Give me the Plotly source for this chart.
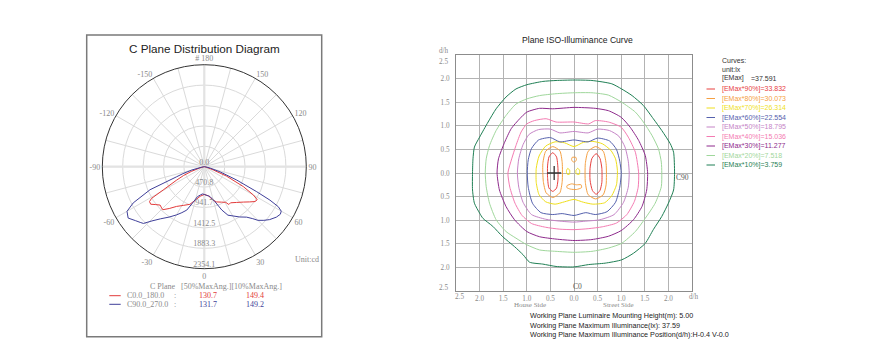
import plotly.graph_objects as go

# page has an 8px body margin: the figure is laid out in screen pixels and shifted
OFF = 8
W, H = 894 - OFF, 364 - OFF


def px(x):
    return (x - OFF) / W


def py(y):
    return 1 - (y - OFF) / H


# ---------------- C plane (polar) data ----------------
radial_max = 2354.1
radial_vals = [0.0, 470.8, 941.7, 1412.5, 1883.3, 2354.1]
radial_text = ["0.0", "470.8", "941.7", "1412.5", "1883.3", "2354.1"]
angle_vals = list(range(0, 360, 15))
angle_text = ["0", "", "30", "", "60", "", "90", "", "120", "", "150", "",
              "# 180", "", "-150", "", "-120", "", "-90", "", "-60", "", "-30", ""]

c0_theta = [-90, -80, -74, -70, -67, -64, -60.5, -59, -57.5, -55, -52, -49, -46, -44, -40, -35, -28, -21, -14, -8,
            0, 8, 15, 19, 26, 31, 33, 36, 42, 48, 52, 55.5, 58, 60, 63, 67, 70, 74, 80, 90]
c0_r = [0, 20, 120, 320, 520, 720, 1090, 1420, 1500, 1510, 1420, 1350, 1370, 1380, 1260, 1120, 1010, 930, 780, 690,
        640, 680, 800, 860, 910, 960, 1040, 1030, 1110, 1220, 1320, 1420, 1440, 1310, 1010, 560, 230, 80, 20, 0]

c90_theta = [-90, -80, -75, -72, -70, -67, -63, -60, -56, -52, -49, -47, -44, -40, -35, -30, -26, -22, -17, -13,
             -8, -4, 0, 4, 8, 11, 17, 22, 26, 31, 35, 40, 43, 45, 48, 51, 55, 58, 60, 61.6,
             63, 64.5, 67.6, 72, 76, 80, 90]
c90_r = [0, 60, 300, 520, 680, 1360, 1840, 2060, 2120, 2020, 1960, 1920, 1740, 1570, 1420, 1285, 1180, 1080, 846, 711,
         660, 630, 640, 660, 680, 704, 845, 1077, 1245, 1330, 1416, 1520, 1640, 1750, 1850, 1940, 2030, 2070, 2050, 1940,
         1700, 1340, 810, 380, 150, 60, 0]

plane_names = ["C0.0_180.0", "C90.0_270.0"]
half_max_angle = ["130.7", "131.7"]
tenth_max_angle = ["149.4", "149.2"]
plane_colors = ["#e23a3a", "#3f3f99"]

# ---------------- ISO illuminance data (d/h) ----------------
emax = "37.591"
iso_labels = ["[EMax*90%]=33.832", "[EMax*80%]=30.073", "[EMax*70%]=26.314", "[EMax*60%]=22.554",
              "[EMax*50%]=18.795", "[EMax*40%]=15.036", "[EMax*30%]=11.277", "[EMax*20%]=7.518",
              "[EMax*10%]=3.759"]
iso_colors = ["#e8413f", "#f5a042", "#efdf1c", "#5561ad", "#c584c6", "#f47bb2", "#8e2a8c", "#9fd79b", "#1f7f54"]

iso10_x = [0, 0.38, 0.80, 1.01, 1.23, 1.47, 1.68, 1.86, 2.04, 2.11, 2.13, 2.11, 2.00, 1.86, 1.68, 1.51, 1.26, 1.01,
           0.66, 0.31, 0, -0.38, -0.66, -0.94, -1.08, -1.26, -1.51, -1.72, -1.93, -2.00, -2.11, -2.15, -2.15, -2.14,
           -2.11, -2.00, -1.82, -1.65, -1.44, -1.23, -1.00, -0.66, -0.38, 0]
iso10_y = [1.97, 1.96, 1.89, 1.78, 1.64, 1.43, 1.15, 0.90, 0.62, 0.44, 0, -0.36, -0.64, -0.92, -1.20, -1.49, -1.70,
           -1.84, -1.91, -1.94, -1.99, -1.98, -1.93, -1.89, -1.73, -1.56, -1.35, -1.13, -0.96, -0.85, -0.64, -0.36, 0,
           0.30, 0.55, 0.76, 1.08, 1.36, 1.61, 1.78, 1.87, 1.94, 1.96, 1.97]

iso20_x = [0, 0.38, 0.73, 1.01, 1.30, 1.47, 1.65, 1.79, 1.85, 1.86, 1.85, 1.72, 1.51, 1.30, 1.01, 0.73, 0.38, 0,
           -0.38, -0.73, -1.00, -1.23, -1.44, -1.65, -1.79, -1.86, -1.88, -1.86, -1.79, -1.65, -1.44, -1.23, -1.00,
           -0.73, -0.38, 0]
iso20_y = [1.70, 1.70, 1.65, 1.50, 1.29, 1.08, 0.80, 0.51, 0.23, 0, -0.29, -0.64, -0.96, -1.24, -1.49, -1.59, -1.66,
           -1.68, -1.66, -1.63, -1.52, -1.38, -1.24, -0.99, -0.64, -0.29, 0, 0.30, 0.58, 0.90, 1.22, 1.46, 1.57, 1.64,
           1.68, 1.70]

iso30_x = [0, 0.45, 0.73, 1.00, 1.19, 1.37, 1.51, 1.56, 1.54, 1.44, 1.26, 1.00, 0.73, 0.38, 0, -0.38, -0.73, -1.00,
           -1.26, -1.44, -1.58, -1.63, -1.60, -1.47, -1.33, -1.15, -1.00, -0.73, -0.45, 0]
iso30_y = [1.39, 1.37, 1.32, 1.18, 0.97, 0.69, 0.37, 0, -0.36, -0.71, -0.99, -1.22, -1.34, -1.41, -1.43, -1.40,
           -1.35, -1.24, -0.99, -0.71, -0.36, 0, 0.30, 0.65, 0.94, 1.15, 1.29, 1.37, 1.36, 1.39]

iso40_x = [0, 0.31, 0.45, 0.73, 1.00, 1.15, 1.30, 1.37, 1.36, 1.28, 1.12, 0.90, 0.60, 0.30, 0, -0.30, -0.60, -0.90,
           -1.10, -1.25, -1.36, -1.40, -1.32, -1.23, -1.12, -1.00, -0.84, -0.59, -0.38, 0]
iso40_y = [1.08, 1.04, 1.11, 1.08, 0.97, 0.76, 0.44, 0, -0.30, -0.60, -0.88, -1.06, -1.14, -1.18, -1.20, -1.19,
           -1.15, -1.07, -0.90, -0.64, -0.30, 0, 0.30, 0.58, 0.87, 1.04, 1.11, 1.15, 1.08, 1.08]

iso50_x = [0, 0.30, 0.50, 0.75, 0.95, 1.08, 1.15, 1.17, 1.15, 1.05, 0.85, 0.55, 0.25, 0, -0.30, -0.60, -0.90, -1.08,
           -1.17, -1.20, -1.17, -1.08, -0.95, -0.75, -0.50, -0.30, 0]
iso50_y = [0.88, 0.85, 0.93, 0.90, 0.78, 0.55, 0.25, 0, -0.30, -0.62, -0.88, -0.99, -1.02, -1.04, -1.02, -0.98,
           -0.88, -0.62, -0.30, 0, 0.30, 0.60, 0.82, 0.92, 0.93, 0.85, 0.88]

iso60_x = [0, 0.30, 0.50, 0.75, 0.90, 0.97, 1.00, 0.97, 0.88, 0.70, 0.45, 0.25, 0, -0.25, -0.45, -0.70, -0.88,
           -0.97, -0.99, -0.97, -0.90, -0.75, -0.50, -0.30, 0]
iso60_y = [0.70, 0.66, 0.74, 0.68, 0.50, 0.25, 0, -0.30, -0.62, -0.82, -0.88, -0.84, -0.90, -0.86, -0.88, -0.84,
           -0.64, -0.30, 0, 0.28, 0.52, 0.70, 0.75, 0.66, 0.70]

iso70_x = [0, 0.20, 0.40, 0.60, 0.78, 0.88, 0.92, 0.90, 0.80, 0.65, 0.40, 0.20, 0, -0.20, -0.40, -0.60, -0.74,
           -0.80, -0.80, -0.74, -0.60, -0.40, -0.20, 0]
iso70_y = [0.56, 0.65, 0.67, 0.62, 0.48, 0.30, 0.05, -0.25, -0.48, -0.63, -0.66, -0.62, -0.56, -0.61, -0.66, -0.61,
           -0.46, -0.20, 0.10, 0.36, 0.57, 0.66, 0.64, 0.56]
iso70_a_x = [-0.13, -0.09, -0.10, -0.15, -0.16, -0.13]
iso70_a_y = [0.10, 0.05, -0.03, -0.02, 0.05, 0.10]
iso70_b_x = [0.08, 0.12, 0.11, 0.05, 0.04, 0.08]
iso70_b_y = [0.10, 0.05, -0.03, -0.02, 0.05, 0.10]

iso80_l_x = [-0.45, -0.30, -0.25, -0.25, -0.30, -0.45, -0.59, -0.65, -0.66, -0.60, -0.45]
iso80_l_y = [0.56, 0.47, 0.22, -0.18, -0.42, -0.52, -0.42, -0.18, 0.20, 0.46, 0.56]
iso80_r_x = [0.46, 0.62, 0.68, 0.68, 0.62, 0.46, 0.30, 0.24, 0.24, 0.30, 0.46]
iso80_r_y = [0.56, 0.46, 0.20, -0.25, -0.46, -0.55, -0.46, -0.20, 0.20, 0.46, 0.56]
iso80_a_x = [-0.04, 0.04, 0.05, 0.00, -0.05, -0.04]
iso80_a_y = [0.33, 0.33, 0.27, 0.23, 0.27, 0.33]
iso80_b_x = [-0.15, -0.05, 0.05, 0.15, 0.16, 0.05, -0.08, -0.15, -0.15]
iso80_b_y = [-0.27, -0.23, -0.25, -0.25, -0.31, -0.35, -0.34, -0.31, -0.27]

iso90_l_x = [-0.45, -0.37, -0.34, -0.34, -0.37, -0.45, -0.53, -0.56, -0.56, -0.53, -0.45]
iso90_l_y = [0.43, 0.34, 0.10, -0.15, -0.32, -0.39, -0.32, -0.10, 0.15, 0.34, 0.43]
iso90_r_x = [0.47, 0.55, 0.59, 0.59, 0.55, 0.47, 0.39, 0.34, 0.34, 0.38, 0.47]
iso90_r_y = [0.41, 0.31, 0.10, -0.20, -0.37, -0.45, -0.37, -0.15, 0.10, 0.31, 0.41]

max_pos_x = [-0.42]
max_pos_y = [0.0]

iso_parts = [
    [(iso90_l_x, iso90_l_y), (iso90_r_x, iso90_r_y)],
    [(iso80_l_x, iso80_l_y), (iso80_r_x, iso80_r_y), (iso80_a_x, iso80_a_y), (iso80_b_x, iso80_b_y)],
    [(iso70_x, iso70_y), (iso70_a_x, iso70_a_y), (iso70_b_x, iso70_b_y)],
    [(iso60_x, iso60_y)],
    [(iso50_x, iso50_y)],
    [(iso40_x, iso40_y)],
    [(iso30_x, iso30_y)],
    [(iso20_x, iso20_y)],
    [(iso10_x, iso10_y)],
]

x_tick_vals = [-2, -1.5, -1, -0.5, 0, 0.5, 1, 1.5, 2]
x_tick_text = ["2.0", "1.5", "1.0", "0.5", "0.0", "0.5", "1.0", "1.5", "2.0"]
y_tick_vals = [2, 1.5, 1, 0.5, 0, -0.5, -1, -1.5, -2]
y_tick_text = ["2.0", "1.5", "1.0", "0.5", "0.0", "0.5", "1.0", "1.5", "2.0"]

SERIF = "Liberation Serif, Times New Roman, serif"
SANS = "Liberation Sans, Arial, sans-serif"
GRAYTXT = "#8a8a8a"

fig = go.Figure()

# ---- polar traces ----
fig.add_trace(go.Scatterpolar(r=[radial_max, 0, radial_max], theta=[90, 0, 270], mode="lines",
                              line=dict(color="#e3e3e3", width=2.2), hoverinfo="skip", showlegend=False))
fig.add_trace(go.Scatterpolar(r=[radial_max, 0, radial_max], theta=[0, 0, 180], mode="lines",
                              line=dict(color="#e3e3e3", width=2.2), hoverinfo="skip", showlegend=False))
fig.add_trace(go.Scatterpolar(r=c0_r, theta=c0_theta, mode="lines", name=plane_names[0],
                              line=dict(color=plane_colors[0], width=1), showlegend=False))
fig.add_trace(go.Scatterpolar(r=c90_r, theta=c90_theta, mode="lines", name=plane_names[1],
                              line=dict(color=plane_colors[1], width=1), showlegend=False))
fig.add_trace(go.Scatterpolar(r=radial_vals, theta=[0] * len(radial_vals), mode="text", text=radial_text,
                              textposition="top center",
                              textfont=dict(family=SERIF, size=8, color=GRAYTXT), showlegend=False,
                              hoverinfo="skip"))

# ---- iso curves ----
for parts, col, lab in zip(iso_parts, iso_colors, iso_labels):
    for xs, ys in parts:
        fig.add_trace(go.Scatter(x=xs, y=ys, mode="lines", name=lab,
                                 line=dict(color=col, width=1, shape="spline", smoothing=0.6),
                                 showlegend=False, xaxis="x", yaxis="y"))
fig.add_trace(go.Scatter(x=max_pos_x, y=max_pos_y, mode="markers",
                         marker=dict(symbol="cross-thin", size=10, line=dict(color="#333", width=1.3)),
                         showlegend=False))

ann = []


def A(x, y, text, size=8, color=GRAYTXT, family=SERIF, xanchor="center"):
    ann.append(dict(x=px(x), y=py(y), xref="paper", yref="paper", text=text, showarrow=False,
                    xanchor=xanchor, yanchor="middle", font=dict(family=family, size=size, color=color)))


# left panel texts
A(204, 48, "C Plane Distribution Diagram", size=11.7, color="#222", family=SANS)
A(306.5, 260, "Unit:cd", size=8)
A(162.5, 286.7, "C Plane", size=8)
A(231.7, 286.7, "[50%MaxAng.][10%MaxAng.]", size=8)
rows_y = [295.7, 304.3]
for i in range(2):
    A(125, rows_y[i], plane_names[i], size=8, xanchor="left")
    A(175, rows_y[i], ":", size=8)
    A(207.5, rows_y[i], half_max_angle[i], size=8, color=plane_colors[i])
    A(254.8, rows_y[i], tenth_max_angle[i], size=8, color=plane_colors[i])

# right panel texts
A(577, 40, "Plane ISO-Illuminance Curve", size=8.6, color="#222", family=SANS)
A(443.5, 51.5, "d/h", size=7.2)
A(443.5, 62, "2.5", size=7.2)
A(443.5, 287.5, "2.5", size=7.2)
A(460, 296.5, "2.5", size=7.2)
A(694, 296.5, "d/h", size=7.2)
A(530, 304.5, "House Side", size=7)
A(618, 304.5, "Street Side", size=7)
A(691, 177, "C90", size=7.5, color="#555", xanchor="right")
A(577, 286.5, "C0", size=7.5, color="#555")
A(528, 315.7, "Working Plane Luminaire Mounting Height(m): 5.00", size=7.2, color="#222", family=SANS,
  xanchor="left")
A(528, 325, "Working Plane Maximum Illuminance(lx): 37.59", size=7.2, color="#222", family=SANS, xanchor="left")
A(528, 334.3, "Working Plane Maximum Illuminance Position(d/h):H-0.4 V-0.0", size=7.2, color="#222",
  family=SANS, xanchor="left")

# iso legend
A(720, 60, "Curves:", size=7, color="#333", family=SANS, xanchor="left")
A(720, 69, "unit:lx", size=7, color="#333", family=SANS, xanchor="left")
A(720, 78.3, "[EMax]", size=7, color="#333", family=SANS, xanchor="left")
A(749, 78.3, "=" + emax, size=7, color="#333", family=SANS, xanchor="left")

shapes = [dict(type="rect", xref="paper", yref="paper", x0=px(86.7), x1=px(321.7), y0=py(336.7), y1=py(35),
               line=dict(color="#7a7a7a", width=1.5))]
for i in range(2):
    shapes.append(dict(type="line", xref="paper", yref="paper", x0=px(109.3), x1=px(120.7),
                       y0=py(rows_y[i]), y1=py(rows_y[i]), line=dict(color=plane_colors[i], width=1)))
for i, (lab, col) in enumerate(zip(iso_labels, iso_colors)):
    yy = 89 + i * 9.5
    A(720, yy, lab, size=7, color=col, family=SANS, xanchor="left")
    shapes.append(dict(type="line", xref="paper", yref="paper", x0=px(706.5), x1=px(715),
                       y0=py(yy), y1=py(yy), line=dict(color=col, width=1)))

axis_font = dict(family=SERIF, size=7.2, color=GRAYTXT)
fig.update_layout(
    width=W, height=H, autosize=False,
    margin=dict(l=0, r=0, t=0, b=0),
    paper_bgcolor="white", plot_bgcolor="white",
    showlegend=False,
    polar=dict(
        domain=dict(x=[px(102.3), px(306.3)], y=[py(268.7), py(64.7)]),
        bgcolor="rgba(0,0,0,0)",
        angularaxis=dict(rotation=-90, direction="counterclockwise", tickmode="array",
                         tickvals=angle_vals, ticktext=angle_text, ticks="",
                         showline=True, linecolor="#333", linewidth=1,
                         gridcolor="#dadada", gridwidth=1,
                         tickfont=dict(family=SERIF, size=8, color=GRAYTXT)),
        radialaxis=dict(range=[0, radial_max], tickmode="array", tickvals=radial_vals[1:],
                        showticklabels=False, ticks="", showline=False,
                        gridcolor="#dadada", gridwidth=1),
    ),
    xaxis=dict(domain=[px(456), px(692)], range=[-2.5, 2.5], tickmode="array",
               tickvals=x_tick_vals, ticktext=x_tick_text, showgrid=True, gridcolor="#b3b3b3",
               gridwidth=1, zeroline=False, showline=True, mirror=True, linecolor="#8c8c8c",
               linewidth=1, ticks="", tickfont=axis_font, anchor="y", fixedrange=True),
    yaxis=dict(domain=[py(291), py(55)], range=[-2.5, 2.5], tickmode="array",
               tickvals=y_tick_vals, ticktext=y_tick_text, showgrid=True, gridcolor="#b3b3b3",
               gridwidth=1, zeroline=False, showline=True, mirror=True, linecolor="#8c8c8c",
               linewidth=1, ticks="", tickfont=axis_font, anchor="x", fixedrange=True,
               ticklabelstandoff=4),
    annotations=ann,
    shapes=shapes,
)

fig.write_html("out.html")
